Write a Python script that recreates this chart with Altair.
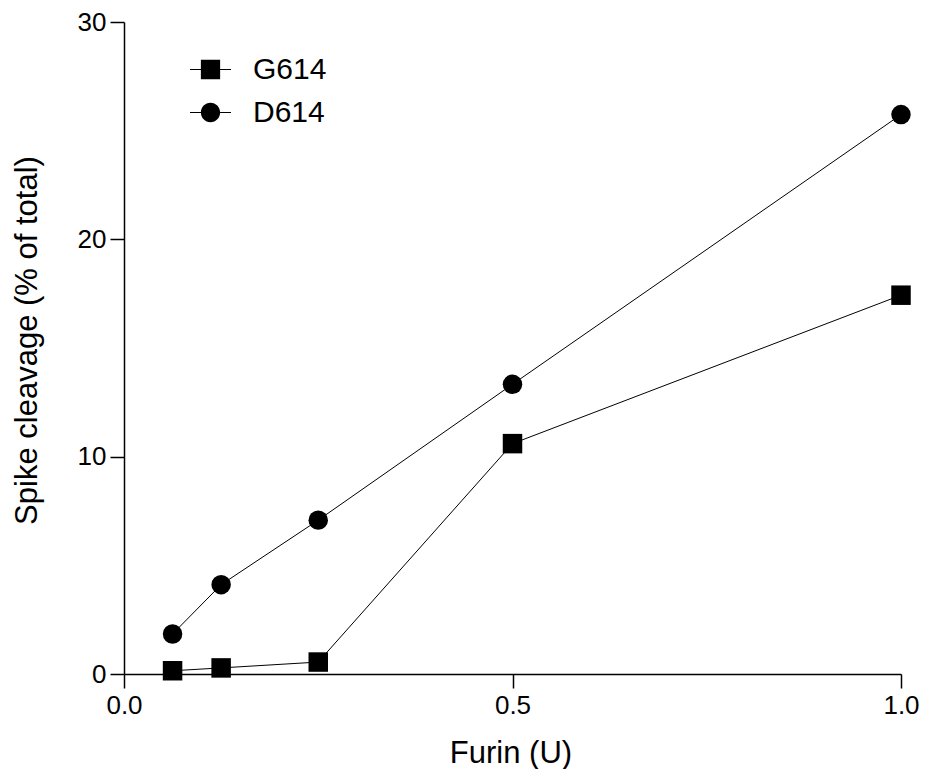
import altair as alt
import pandas as pd

furin = [0.0625, 0.125, 0.25, 0.5, 1.0]
g614 = [0.15, 0.28, 0.55, 10.6, 17.43]
d614 = [1.84, 4.11, 7.08, 13.33, 25.74]
series_names = ["G614", "D614"]
x_ticks = [0.0, 0.5, 1.0]
y_ticks = [0, 10, 20, 30]

rows = []
for name, vals in zip(series_names, [g614, d614]):
    for xv, yv in zip(furin, vals):
        rows.append({"furin": xv, "value": yv, "series": name})
df = pd.DataFrame(rows)

FONT = "Liberation Sans"

x_enc = alt.X("furin:Q",
              scale=alt.Scale(domain=[0, 1], nice=False, zero=True),
              axis=alt.Axis(values=x_ticks, format=".1f", title="Furin (U)",
                            labelFlush=False, labelOverlap=False,
                            titleX=386.5, titleY=88, titleAlign="center",
                            titleBaseline="alphabetic"))
y_enc = alt.Y("value:Q",
              scale=alt.Scale(domain=[0, 30], nice=False),
              axis=alt.Axis(values=y_ticks, format="d", title="Spike cleavage (% of total)",
                            labelFlush=False, labelOverlap=False,
                            titleX=-88, titleY=318, titleAlign="center",
                            titleBaseline="alphabetic", titleAngle=-90))

base = alt.Chart(df)

lines = base.mark_line(color="black", strokeWidth=1).encode(
    x=x_enc, y=y_enc, detail="series:N")

points = base.mark_point(filled=True, color="black", opacity=1, size=380).encode(
    x="furin:Q", y="value:Q",
    shape=alt.Shape("series:N", scale=alt.Scale(domain=series_names, range=["square", "circle"]),
                    legend=None))

stubs = "M-1,-0.025H-0.47V0.025H-1Z M0.47,-0.025H1V0.025H0.47Z "
sq_path = stubs + "M-0.47,-0.47H0.47V0.47H-0.47Z"
ci_path = stubs + "M-0.47,0A0.47,0.47,0,1,1,0.47,0A0.47,0.47,0,1,1,-0.47,0Z"

legend_layer = base.transform_filter("false").mark_point(
    filled=True, color="black", opacity=1).encode(
    x="furin:Q", y="value:Q",
    shape=alt.Shape("series:N",
                    scale=alt.Scale(domain=series_names, range=[sq_path, ci_path]),
                    legend=alt.Legend(title=None, orient="none", legendX=66, legendY=27,
                                      symbolSize=1681, symbolFillColor="black",
                                      symbolStrokeWidth=0, symbolOpacity=1,
                                      labelFontSize=30, labelFont=FONT, labelColor="black",
                                      labelOffset=22, rowPadding=7)))

chart = alt.layer(lines, points, legend_layer).resolve_scale(shape="independent").properties(
    width=777, height=652,
    autosize=alt.AutoSizeParams(type="none"),
    padding={"left": 116, "top": 14, "right": 18, "bottom": 95},
).configure_view(stroke=None).configure_axis(
    domainColor="black", domainWidth=1.5, tickColor="black", tickWidth=1.5, tickSize=14,
    labelFont=FONT, labelFontSize=26, labelColor="black", labelPadding=4,
    titleFont=FONT, titleFontSize=31, titleFontWeight="normal", titleColor="black",
    grid=False,
)

chart.save("out.html", embed_options={"renderer": "svg", "actions": False})
